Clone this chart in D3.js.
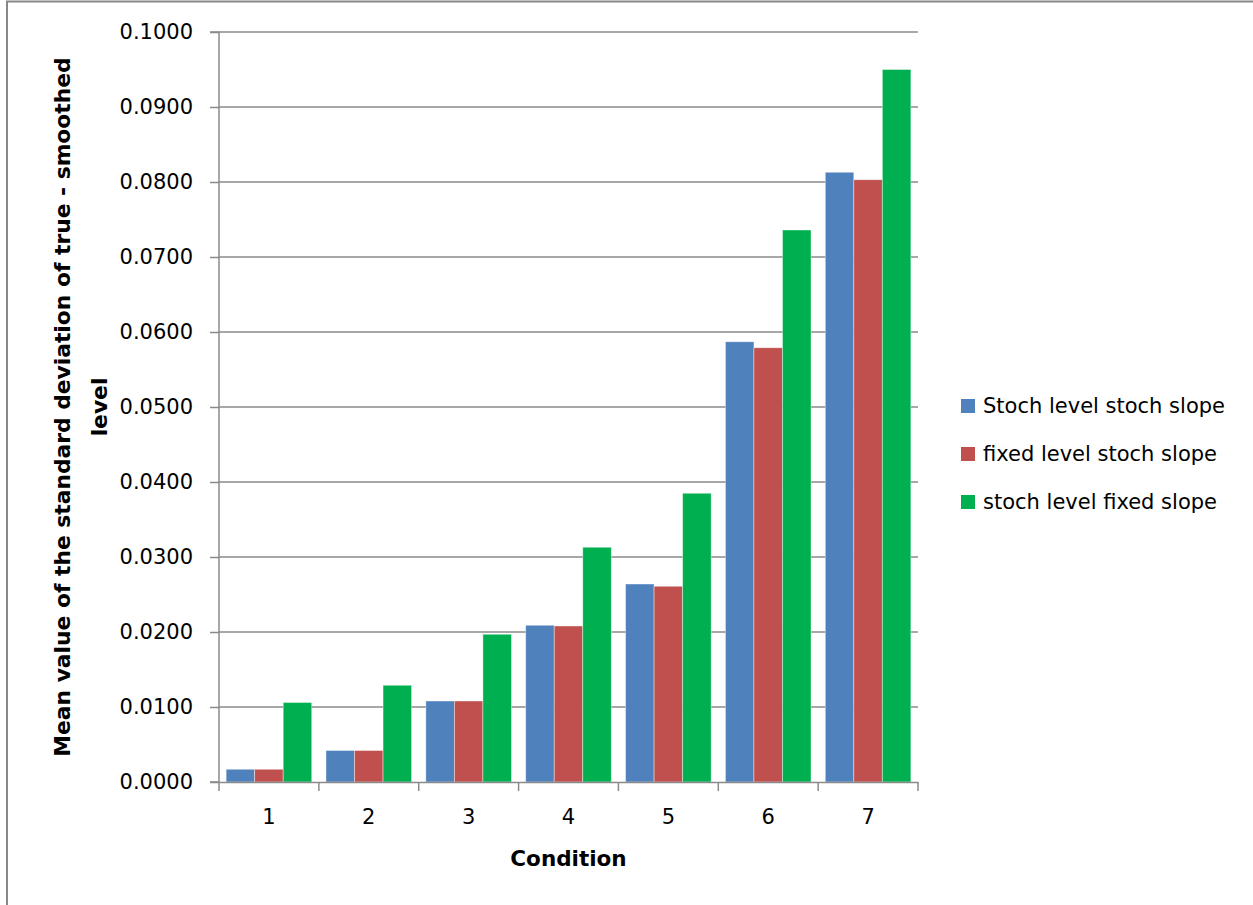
<!DOCTYPE html>
<html>
<head>
<meta charset="utf-8">
<script src="https://cdn.jsdelivr.net/npm/d3@7"></script>
<style>
  html, body { margin: 0; padding: 0; background: #fff; }
  svg { display: block; }
  text { font-family: "DejaVu Sans", sans-serif; fill: #000; }
</style>
</head>
<body>
<svg id="chart" width="1253" height="905"></svg>
<script>
const categories = ["1", "2", "3", "4", "5", "6", "7"];
const seriesNames = ["Stoch level stoch slope", "fixed level stoch slope", "stoch level fixed slope"];
const stochLevelStochSlope = [0.0017, 0.0042, 0.0108, 0.0209, 0.0264, 0.0587, 0.0813];
const fixedLevelStochSlope = [0.0017, 0.0042, 0.0108, 0.0208, 0.0261, 0.0579, 0.0803];
const stochLevelFixedSlope = [0.0106, 0.0129, 0.0197, 0.0313, 0.0385, 0.0736, 0.0950];
const yTicks = [0, 0.01, 0.02, 0.03, 0.04, 0.05, 0.06, 0.07, 0.08, 0.09, 0.1];
const colors = ["#4F81BD", "#C0504D", "#00B050"];
const seriesValues = [stochLevelStochSlope, fixedLevelStochSlope, stochLevelFixedSlope];

(function () {
const svg = d3.select("#chart");
const pL = 219, pR = 918, pT = 32, pB = 782;
const FONT = "21px";

// outer frame
svg.append("path").attr("d", "M7,905 V1.5 H1253")
  .attr("fill", "none").attr("stroke", "#888").attr("stroke-width", 2);

const x = d3.scaleBand().domain(categories).range([pL, pR]).paddingInner(0).paddingOuter(0);
const x1 = d3.scaleBand().domain(d3.range(seriesNames.length))
  .range([0, x.bandwidth()]).paddingInner(0).paddingOuter(0.25);
const y = d3.scaleLinear().domain([0, 0.1]).range([pB, pT]);

// gridlines
svg.append("g").selectAll("line").data(yTicks.slice(1)).join("line")
  .attr("x1", pL).attr("x2", pR)
  .attr("y1", d => y(d)).attr("y2", d => y(d))
  .attr("stroke", "#8a8a8a").attr("stroke-width", 1.5);

// bars
const groups = svg.append("g").selectAll("g").data(categories).join("g")
  .attr("transform", d => `translate(${x(d)},0)`);
groups.selectAll("rect").data((d, i) => seriesValues.map((s, k) => ({k, v: s[i]}))).join("rect")
  .attr("x", d => x1(d.k)).attr("width", x1.bandwidth())
  .attr("y", d => y(d.v)).attr("height", d => y(0) - y(d.v))
  .attr("fill", d => colors[d.k])
  .attr("stroke", "rgba(255,255,255,0.5)").attr("stroke-width", 0.8);

// y axis
const yAxis = d3.axisLeft(y).tickValues(yTicks).tickFormat(d3.format(".4f")).tickSize(9).tickPadding(17);
const gy = svg.append("g").attr("transform", `translate(${pL},0)`).call(yAxis);
gy.select(".domain").attr("stroke", "#8a8a8a").attr("stroke-width", 1.5).attr("d", `M-9,${pT}H0V${pB}H-9`);
gy.selectAll(".tick line").attr("stroke", "#8a8a8a").attr("stroke-width", 1.5);
gy.selectAll(".tick text").style("font-size", FONT).attr("font-family", "DejaVu Sans, sans-serif");

// x axis
const xAxis = d3.axisBottom(x).tickSize(0).tickPadding(27);
const gx = svg.append("g").attr("transform", `translate(0,${pB})`).call(xAxis);
gx.select(".domain").attr("stroke", "#8a8a8a").attr("stroke-width", 1.5);
gx.selectAll(".tick text").style("font-size", FONT).attr("font-family", "DejaVu Sans, sans-serif");
const bounds = categories.map(c => x(c)).concat([x(categories[categories.length - 1]) + x.bandwidth()]);
gx.append("g").selectAll("line").data(bounds).join("line")
  .attr("x1", d => d).attr("x2", d => d).attr("y1", 0).attr("y2", 9)
  .attr("stroke", "#8a8a8a").attr("stroke-width", 1.5);

// axis titles
svg.append("text").attr("x", (pL + pR) / 2).attr("y", 866)
  .attr("text-anchor", "middle").style("font-size", "21.5px").style("font-weight", "bold")
  .text("Condition");
const yt = svg.append("text").attr("transform", `translate(0,${(pT + pB) / 2}) rotate(-90)`)
  .attr("text-anchor", "middle").style("font-size", "21.8px").style("font-weight", "bold");
yt.append("tspan").attr("x", 0).attr("y", 70).text("Mean value of the standard deviation of true - smoothed");
yt.append("tspan").attr("x", 0).attr("y", 107).text("level");

// legend
const legend = svg.append("g").selectAll("g").data(seriesNames).join("g")
  .attr("transform", (d, i) => `translate(961,${406 + i * 48})`);
legend.append("rect").attr("x", 0).attr("y", -7).attr("width", 14).attr("height", 14)
  .attr("fill", (d, i) => colors[i]);
legend.append("text").attr("x", 22).attr("y", 0).attr("dy", "0.35em")
  .style("font-size", FONT).text(d => d);
})();
</script>
</body>
</html>
